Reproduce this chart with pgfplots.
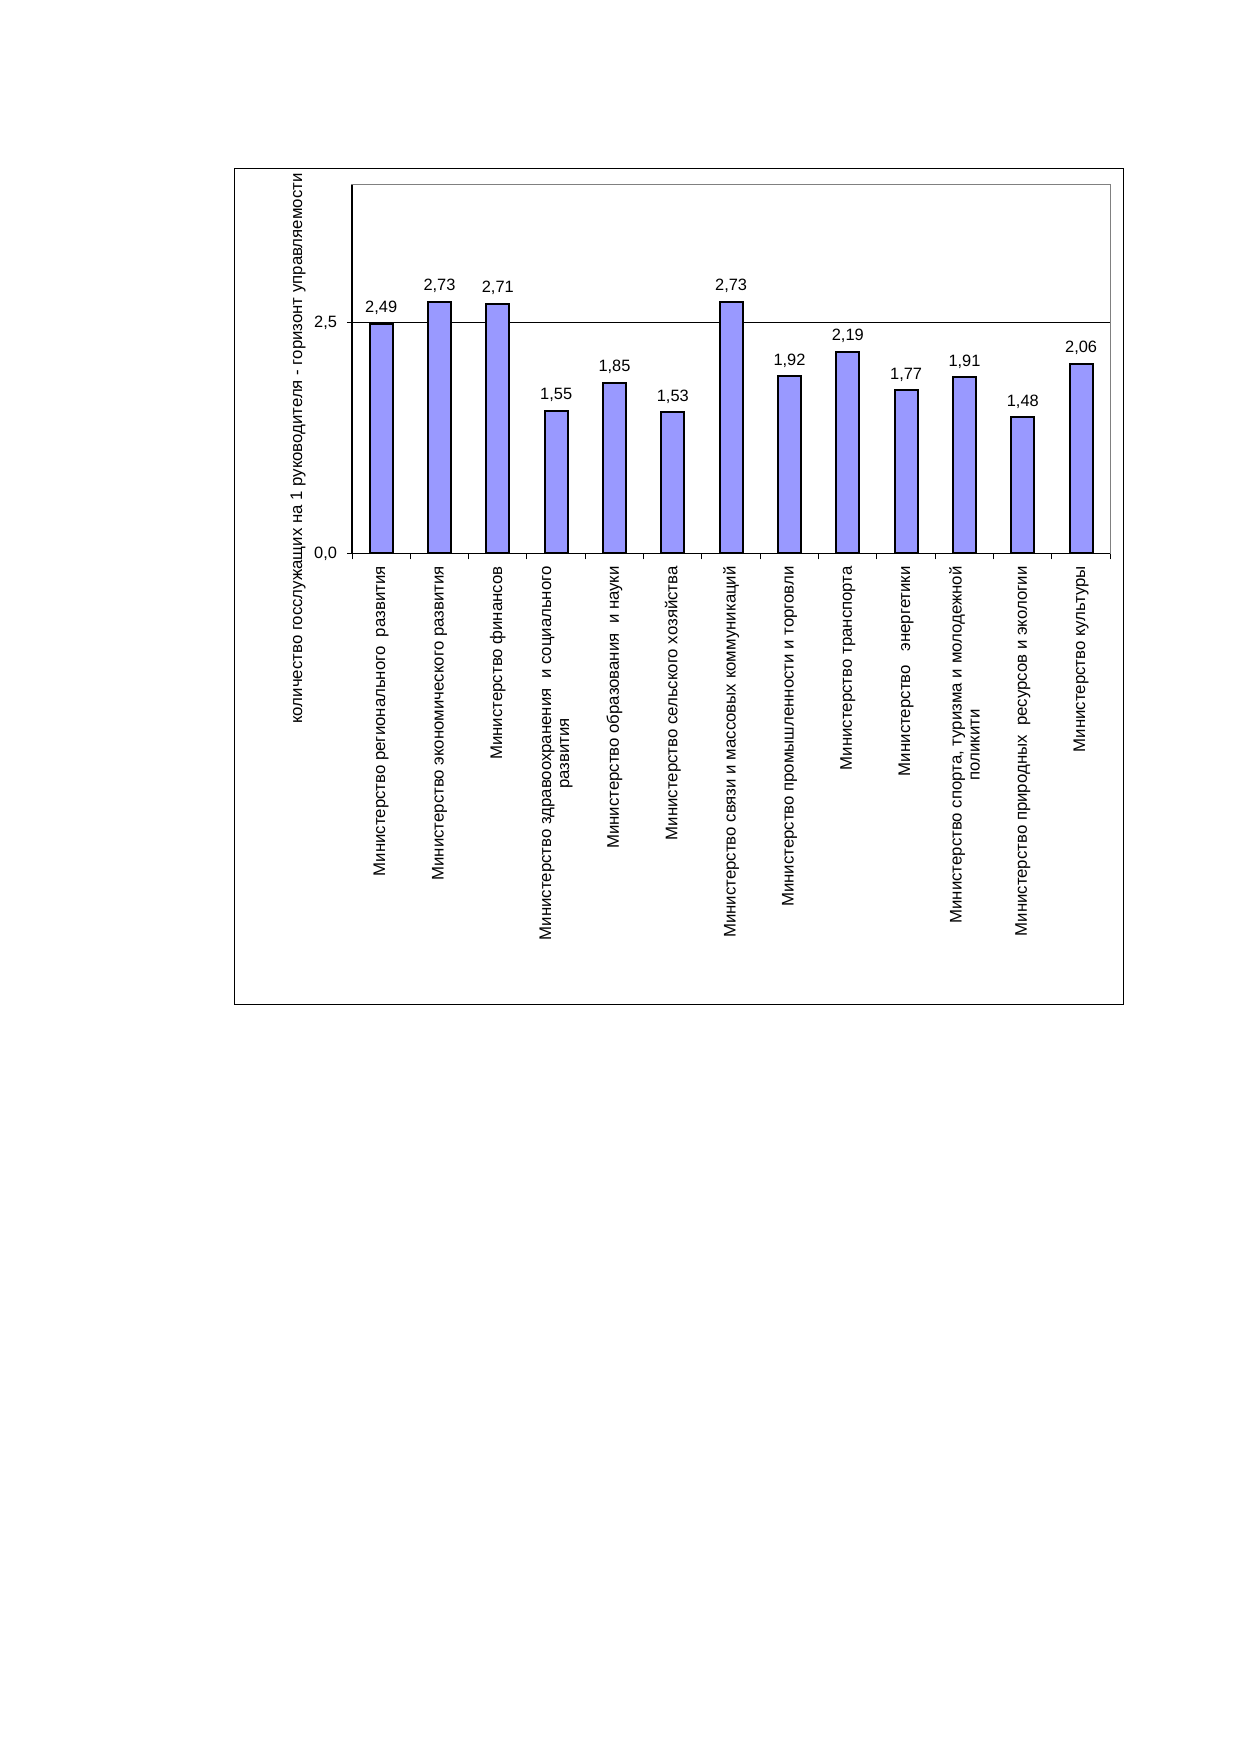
\documentclass[border=0pt]{standalone}
\usepackage{pgfplots}
\pgfplotsset{compat=1.18}
\usepackage{pgfplotstable}
\usepackage{fontspec}
\setmainfont{Liberation Sans}
\definecolor{barblue}{RGB}{153,153,255}
\definecolor{framegray}{RGB}{128,128,128}
\pgfplotstableread{
x y label
0 2.49 {2,49}
1 2.73 {2,73}
2 2.71 {2,71}
3 1.55 {1,55}
4 1.85 {1,85}
5 1.53 {1,53}
6 2.73 {2,73}
7 1.92 {1,92}
8 2.19 {2,19}
9 1.77 {1,77}
10 1.91 {1,91}
11 1.48 {1,48}
12 2.06 {2,06}
}\datatable
\begin{document}
\begin{tikzpicture}
\path[use as bounding box] (0,0) rectangle (619.5pt,876pt);
\draw[black, line width=0.5pt] (117.15pt,373.85pt) rectangle (561.65pt,791.85pt);
\node[rotate=90, anchor=east, inner sep=0pt, font=\fontsize{8.4}{10}\selectfont] at (149pt,789.5pt)
  {количество госслужащих на 1 руководителя - горизонт управляемости};
\begin{axis}[
  at={(176pt,599.25pt)}, anchor=south west,
  width=379.15pt, height=184.4pt, scale only axis,
  xmin=-0.5, xmax=12.5, ymin=0, ymax=4,
  ybar, bar width=0.39, bar shift=0pt,
  axis line style={draw=framegray, line width=0.8pt},
  tick align=outside, tick pos=left,
  xtick={0,...,12},
  major x tick style={draw=none},
  minor xtick={-0.5,0.5,...,12.5},
  minor tick length=3pt,
  major tick length=2.6pt,
  tick style={black, line width=0.5pt},
  xticklabels={
    {Министерство регионального\ \ развития},
    {Министерство экономического развития},
    {Министерство финансов},
    {Министерство здравоохранения\ \ и социального\\развития},
    {Министерство образования\ \ и науки},
    {Министерство сельского хозяйства},
    {Министерство связи и массовых коммуникаций},
    {Министерство промышленности и торговли},
    {Министерство транспорта},
    {Министерство\ \ \ энергетики},
    {Министерство спорта, туризма и молодежной\\поликити},
    {Министерство природных\ \ ресурсов и экологии},
    {Министерство культуры}},
  xticklabel style={rotate=90, anchor=east, align=center, font=\fontsize{8.4}{9}\selectfont, inner sep=0pt},
  xticklabel shift=3.6pt,
  ytick={0,2.5},
  yticklabels={{0,0},{2,5}},
  yticklabel style={font=\fontsize{8.2}{9.6}\selectfont, inner sep=0pt, xshift=-4.7pt},
  ymajorgrids, grid style={black, line width=0.5pt},
  clip=false,
]
\addplot[fill=barblue, draw=black, line width=1pt,
  nodes near coords, point meta=explicit symbolic,
  nodes near coords style={font=\fontsize{8.2}{9.6}\selectfont, anchor=base, yshift=5.5pt}]
  table[x=x, y=y, meta=label] {\datatable};
\draw[black, line width=0.8pt] (axis cs:-0.5,4) -- (axis cs:-0.5,0) -- (axis cs:12.5,0);
\end{axis}
\end{tikzpicture}
\end{document}
